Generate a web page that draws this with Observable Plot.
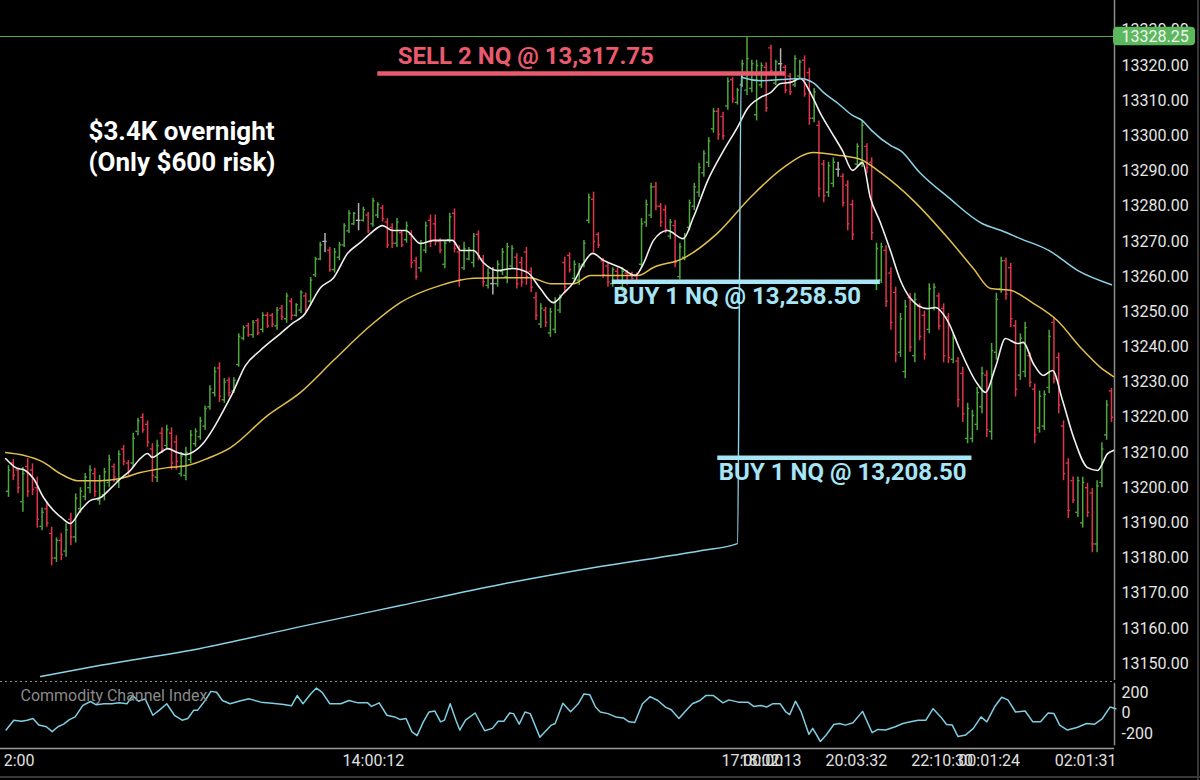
<!DOCTYPE html>
<html><head><meta charset="utf-8">
<script src="https://cdn.jsdelivr.net/npm/d3@7"></script>
<script src="https://cdn.jsdelivr.net/npm/@observablehq/plot@0.6"></script>
<style>
html,body{margin:0;padding:0;background:#000;overflow:hidden;}
#wrap{position:relative;width:1200px;height:780px;background:#000;overflow:hidden;}
#main,#cci{position:absolute;left:0;}
#main{top:0;} #cci{top:680px;}
.edgeB{position:absolute;left:0;top:776px;width:1200px;height:2px;background:#383838;}
.edgeR{position:absolute;left:1197px;top:0;width:2px;height:780px;background:#383838;}
</style></head>
<body><div id="wrap"><div id="main"></div><div id="cci"></div><div class="edgeB"></div><div class="edgeR"></div></div>
<script>
// ---- OHLC bars (one per bar index) ----
const open = [
13199,13207,13205,13196,13206,13205,13200,13189,13194,13187,
13180,13185,13182,13191,13186,13194,13197.5,13200,13204,13196.5,
13198,13201.5,13206,13202,13211,13207,13207,13216,13220,13218,
13211,13203,13215.5,13212,13215.5,13213,13204,13203.5,13208,13212.5,
13214.5,13217.5,13223,13227,13234,13225,13230.5,13227.5,13235,13242.5,
13246,13243.5,13247.5,13245,13249,13249,13246,13251,13248,13253,
13249,13250.5,13254.5,13253,13260.5,13265,13270,13267.5,13262,13265.5,
13269,13273,13275,13276,13276,13277.5,13275,13277.5,13279.5,13275.5,
13274,13269.5,13272.5,13270.5,13272,13264.5,13262.5,13267.5,13276,13275,
13270,13263.5,13270.5,13278,13267,13262.5,13265,13264,13272,13265,
13257.5,13258,13258,13261.5,13260,13263,13265.5,13264,13267,13261.5,
13254,13246.5,13250.5,13244,13245,13250.5,13264,13266,13259.5,13259,
13263.5,13276,13282,13272,13264.5,13263,13258,13261.5,13257,13261,
13260.75,13260.5,13263.5,13275.5,13277.5,13285.5,13280,13279,13271.5,13274.5,
13260,13265.5,13274,13280,13284,13289.5,13292.5,13302,13307,13305.5,
13308.5,13316,13309.5,13314.5,13313,13313.5,13306,13314.5,13319.5,13325,
13315,13320.5,13319.5,13317,13314.5,13317,13321.5,13318,13305,13303,
13292,13284,13286.5,13290.5,13288.5,13286,13280.5,13292,13292.5,13297,
13292.5,13258,13259,13267.5,13261,13255.5,13238.5,13233,13254,13237.5,
13251.5,13249,13245,13251,13254.5,13251,13248.5,13236.5,13236,13232.5,
13214,13214,13218,13223,13232,13216,13238.5,13256.5,13264.5,13262.5,
13246,13232,13233,13237.5,13228,13217,13217.5,13228.5,13247,13237,
13217.5,13207,13202,13193,13190,13200,13198.5,13184,13201.5,13215,
13227.5];
const high = [
13206.25,13208,13205.5,13205.75,13208.25,13206.75,13203,13194.25,13195.5,13188.75,
13185.75,13187,13189.75,13192.75,13198.25,13200,13204,13206.25,13205.5,13203.5,
13205.5,13209.25,13206.75,13210.5,13212,13207.75,13215.5,13219.75,13221,13219,
13212.5,13213.5,13217,13217.75,13217,13214.75,13210,13211.5,13216.25,13216.75,
13220,13223.25,13229,13234.25,13235.5,13231,13231.25,13231.25,13243.75,13246,
13246.75,13247.5,13248,13249.75,13249.75,13249.5,13251.25,13251.75,13255.25,13253.75,
13252.25,13256,13255.25,13259.75,13265.5,13269.75,13272.25,13268.25,13268,13269.75,
13275,13278.75,13278.25,13280.75,13279.75,13278.25,13282.25,13281,13280.25,13276.5,
13275,13276.5,13273,13275.5,13273,13265.5,13270.25,13275.5,13277.5,13277.5,
13270.75,13270.25,13278,13279.25,13268.75,13269.75,13268.25,13272.25,13273,13266,
13262.25,13262.5,13264.5,13268,13269.5,13268.75,13266.5,13265.5,13268.25,13262.5,
13255.5,13252.25,13251.25,13251,13254,13254.75,13265.5,13266.75,13264.5,13263.75,
13270.25,13283.5,13284,13272.5,13265.25,13264,13262.5,13262.5,13262.5,13261.75,
13261.25,13261,13276.5,13281.75,13286.5,13286.75,13280.75,13280.25,13276.25,13276,
13269.5,13272.25,13281.75,13286.5,13292.25,13295.75,13299.5,13307.75,13307.75,13306.75,
13316.5,13316.5,13313.5,13321.5,13328.25,13321.5,13321.5,13320.75,13320.75,13325.75,
13321.5,13324.75,13320,13317.75,13322.75,13321.5,13322.75,13319.25,13313.5,13304.25,
13293,13292.5,13293.75,13292.5,13289.25,13287.25,13281.75,13297.75,13304.25,13297.75,
13293.75,13269.5,13269.5,13268.75,13262.5,13257,13249.5,13253.25,13255.25,13255.25,
13252.25,13250.25,13258,13258,13255.25,13252.25,13249.5,13243.75,13237,13234.25,
13224,13222,13228.5,13234.25,13233.25,13241,13255.25,13265.5,13265.25,13263.75,
13247.5,13243.75,13247,13238.25,13229.5,13227.5,13227.5,13244.75,13248.25,13238.25,
13219,13208.25,13203,13203,13203,13201.25,13199.75,13202,13212.75,13224.75,
13228.25];
const low = [
13197.25,13202,13198.25,13193,13197.25,13197.75,13188.5,13187.75,13188.75,13177.75,
13178.75,13179.25,13180.25,13183.5,13184.25,13192.75,13196.25,13198.25,13197.25,13195,
13196.25,13200,13201.5,13199.75,13206.25,13203.5,13205.75,13214.75,13215.5,13211.5,
13201.5,13201.5,13209.75,13211,13205,13205,13203,13202,13206.75,13211.5,
13213.5,13216.25,13222,13225.75,13224.25,13224,13225.75,13226.75,13234.25,13241.75,
13242.75,13242.5,13243.25,13244,13245.25,13245.5,13244.75,13247.5,13246.75,13247.5,
13248.5,13249.5,13249.75,13251.75,13259.75,13264.5,13266.75,13261.25,13261,13264.5,
13268.25,13272.25,13274.5,13273,13275.5,13272.25,13274,13276.5,13275.5,13268,
13268,13268.25,13268.25,13269.5,13262.25,13259,13261.25,13266.5,13268.25,13268.75,
13266.5,13262.25,13269.5,13266.75,13257,13261.75,13264.5,13262.5,13264.5,13257,
13256.5,13254.75,13257,13260.25,13258,13262.25,13256.5,13257,13257.5,13255.5,
13247.5,13245.25,13245.5,13242.75,13243.75,13249.5,13255.25,13261,13258.25,13257.5,
13262.5,13275,13266.75,13268,13259.5,13257,13257,13258,13255.5,13257.5,
13259,13258,13262.5,13274,13276.5,13278.75,13274,13272.25,13270.5,13262.5,
13259,13264.5,13273,13278.75,13282.5,13288.25,13291,13300.75,13298.75,13298.75,
13307.25,13309.25,13308.75,13313.75,13311.5,13312.25,13304.25,13313.5,13306.75,13317.75,
13314.25,13317.75,13312,13311.5,13313.75,13316.25,13311,13303,13303.75,13282.5,
13281,13282.5,13285.25,13288.25,13279.75,13273,13270.25,13291,13291,13289.25,
13270.25,13256,13258,13251.25,13244.75,13235.5,13237,13231,13238.5,13235.5,
13241.75,13236.25,13243.75,13250.25,13244.75,13235.5,13235.25,13235.25,13222.75,13218.5,
13212.5,13212.75,13216.25,13221,13214.25,13213.5,13236.25,13255.25,13253.25,13245.5,
13225.75,13230.5,13231.25,13228.5,13212.5,13215.5,13216.25,13226.75,13229.5,13221,
13202,13191.25,13195.5,13191.5,13188.5,13191.5,13181.5,13181.5,13200,13213.5,
13218.5];
const close = [
13205,13203.5,13200,13204,13199,13199.5,13191,13193,13190,13180,
13185,13181,13188,13186,13197,13199,13203,13205,13199,13202,
13204.5,13208,13203,13209.5,13207.5,13204.5,13214,13219,13216.5,13213,
13203.5,13212,13211,13216.5,13207,13207.5,13209,13210,13215,13216,
13219,13222.5,13228,13233,13226,13230,13227,13230.5,13243,13245.5,
13243.5,13247,13244,13249,13246,13246.5,13250.5,13248.5,13254.5,13249,
13252,13255.5,13250.5,13259,13265,13269,13270,13262,13267,13269,
13274.5,13278,13278,13276,13279,13273,13281.5,13280.5,13276.5,13269,
13269.5,13275.5,13269,13274.5,13264,13260,13269.5,13274.5,13270,13270,
13267.5,13269.5,13277,13268,13259,13268,13267.5,13271.5,13266,13258.5,
13261,13258,13263.5,13267,13268.5,13268,13258,13258.5,13260,13257,
13249,13251,13247,13250,13253,13254,13257,13262,13263.5,13263,
13269.5,13282.5,13270,13269,13260.5,13258.5,13262,13259,13261.5,13258.5,
13259.5,13258.75,13275,13280.5,13285.5,13280,13275.5,13273.5,13275.5,13264,
13268.5,13271.5,13281,13285.5,13291,13295,13298.5,13307,13300.5,13300,
13315.5,13310.5,13313,13320.5,13322,13320.5,13320,13320,13308,13318.5,
13321,13320.5,13313,13312.5,13322,13321,13312,13305,13312.5,13285,
13283,13291.5,13292.5,13290.5,13281,13275,13272,13297,13303,13291,
13272.5,13268,13268.5,13253,13247,13238,13248,13251.5,13240,13253.5,
13243,13238,13256.5,13257,13246,13237.5,13237,13242.5,13225,13221,
13222.5,13220.5,13227,13232.5,13216.5,13239,13253.5,13264.5,13255,13248,
13228,13242.5,13245.5,13230,13215,13226,13226.5,13243,13231,13223.5,
13204,13193.5,13196.5,13202,13201.5,13193,13184,13200.5,13211,13223.5,
13220];

// ---- indicator lines: [bar index, value] ----
const fastMA = [[-0.6,13208.3],[1.5,13205.7],[3.5,13204.9],[5.2,13202.6],[7.3,13197.2],[9.4,13193.5],[11.3,13191.2],[12.9,13189.8],[15.0,13193.5],[17.1,13196.4],[19.2,13197.2],[21.3,13199.8],[23.4,13202.6],[25.4,13204.9],[27.5,13208.3],[29.0,13209.7],[30.0,13208.6],[31.7,13210.0],[33.2,13211.1],[35.2,13210.0],[36.9,13209.4],[39.0,13210.6],[40.7,13212.8],[42.7,13216.8],[44.8,13221.9],[46.7,13226.8],[49.4,13234.7],[52.5,13239.0],[56.7,13243.8],[59.2,13246.7],[61.5,13248.9],[65.1,13256.9],[67.8,13259.7],[70.7,13266.6],[73.4,13269.7],[75.5,13272.3],[78.0,13274.5],[80.1,13273.1],[82.8,13273.1],[85.9,13269.4],[88.6,13270.3],[92.6,13270.3],[94.3,13267.4],[97.0,13267.4],[99.0,13264.0],[102.0,13261.7],[105.1,13262.3],[108.2,13261.2],[110.9,13256.6],[113.6,13252.6],[115.7,13255.2],[117.8,13258.3],[119.9,13263.7],[121.8,13266.6],[124.1,13264.6],[127.6,13262.6],[130.7,13260.3],[132.4,13263.7],[134.5,13270.3],[137.4,13273.1],[140.7,13270.8],[142.8,13276.8],[145.8,13287.3],[149.1,13295.8],[152.0,13302.4],[154.1,13307.8],[156.8,13310.9],[158.9,13312.3],[161.0,13314.9],[163.1,13315.2],[165.1,13316.3],[167.2,13312.3],[169.3,13306.4],[171.4,13301.5],[173.9,13295.8],[176.0,13290.2],[178.1,13292.4],[179.7,13282.5],[181.8,13275.4],[183.9,13267.4],[186.0,13258.9],[188.1,13253.8],[191.6,13250.9],[193.3,13251.2],[195.8,13247.5],[198.5,13239.0],[202.0,13229.6],[203.7,13227.1],[205.8,13234.2],[207.9,13242.4],[210.4,13241.0],[211.6,13241.3],[213.7,13235.3],[215.8,13231.9],[217.7,13233.3],[219.8,13224.8],[222.1,13214.3],[225.0,13205.7],[227.1,13204.9],[229.2,13209.7],[230.4,13210.6]];
const slowMA = [[-0.6,13210.0],[3.1,13209.2],[7.3,13207.2],[10.8,13204.0],[14.4,13202.0],[19.2,13202.0],[23.4,13202.6],[27.5,13204.3],[33.2,13205.7],[37.3,13206.3],[41.5,13208.3],[46.3,13211.4],[54.0,13220.5],[60.9,13227.1],[67.8,13236.2],[75.5,13246.1],[81.7,13252.6],[90.1,13257.5],[97.0,13259.5],[104.1,13259.7],[108.8,13259.7],[113.0,13258.0],[117.8,13258.0],[121.4,13260.3],[131.2,13260.3],[134.5,13262.6],[140.7,13265.2],[147.8,13272.3],[154.7,13282.5],[161.6,13291.0],[167.9,13295.3],[173.5,13294.4],[177.7,13293.3],[181.8,13289.6],[188.7,13281.6],[195.8,13271.1],[201.2,13262.3],[204.8,13256.6],[208.9,13256.1],[213.7,13252.4],[218.7,13247.5],[223.5,13239.9],[227.7,13234.2],[230.4,13231.6]];
const blueLine = [[6.7,13146.3],[19.2,13149.5],[40.0,13154.3],[60.9,13160.5],[81.7,13166.5],[102.6,13172.5],[123.4,13177.6],[144.3,13182.1],[152.0,13184.1],[152.8,13317.7],[153.0,13316.6],[157.0,13315.7],[161.0,13316.0],[165.0,13316.3],[168.0,13314.9],[170.0,13312.3],[173.0,13309.2],[176.0,13305.8],[178.0,13304.4],[180.0,13301.5],[184.0,13297.2],[186.0,13295.8],[190.0,13289.6],[196.0,13282.5],[203.0,13275.1],[207.0,13273.1],[211.0,13270.8],[217.0,13267.4],[223.0,13261.7],[230.0,13257.7]];
const cciLine = [[-0.5,-166],[1.1,-70],[2.7,-80],[3.9,-70],[5.1,-54],[6.3,-118],[7.9,-134],[9.1,-182],[10.3,-134],[11.5,-109],[12.7,-64],[13.9,-38],[15.5,74],[17.1,112],[18.3,80],[19.9,90],[21.5,90],[23.1,99],[24.7,90],[25.9,170],[27.1,115],[28.5,138],[30.1,-22],[31.4,26],[33.0,90],[34.6,-22],[36.2,-70],[37.4,-54],[38.6,26],[39.4,26],[41.0,122],[42.2,211],[43.4,202],[44.6,122],[46.2,90],[48.6,122],[50.2,138],[52.6,106],[55.0,96],[57.4,83],[59.0,70],[60.2,170],[61.4,90],[63.0,186],[64.2,243],[65.4,202],[67.0,90],[69.3,90],[71.0,122],[72.9,99],[74.9,99],[75.7,64],[77.3,99],[78.9,-22],[80.5,-38],[81.7,-64],[82.9,-54],[84.1,-182],[85.2,-221],[86.5,-86],[87.7,10],[88.9,19],[90.1,-86],[90.9,-70],[92.1,90],[93.3,-70],[94.1,-166],[95.3,-70],[97.3,0],[99.3,-173],[100.9,-150],[102.1,-80],[103.3,-80],[104.5,0],[105.3,-6],[106.5,-109],[107.7,10],[108.8,-6],[110.8,-237],[113.2,-118],[114.0,-102],[115.6,96],[117.2,13],[118.8,90],[120.0,186],[121.2,179],[122.4,58],[123.4,10],[125.0,-6],[126.6,-38],[128.2,-48],[129.4,-86],[130.6,-93],[132.2,90],[133.8,160],[135.4,122],[137.0,58],[138.2,32],[139.8,-54],[141.0,10],[142.6,90],[144.2,122],[145.4,170],[147.0,170],[149.0,99],[150.2,128],[152.2,106],[154.2,106],[155.4,64],[156.9,74],[158.1,58],[159.3,90],[160.9,90],[162.1,10],[162.9,-16],[164.1,115],[165.3,10],[166.9,-208],[167.7,-150],[169.3,-278],[170.5,-214],[172.1,-112],[173.3,-102],[174.5,-118],[176.1,-96],[178.1,16],[180.1,-192],[181.3,-160],[182.9,-166],[184.9,-134],[186.5,-102],[188.1,-86],[189.7,-70],[191.3,-70],[192.8,42],[194.4,-38],[195.6,-112],[196.8,-118],[198.0,-230],[199.6,-214],[201.2,-150],[202.8,-38],[204.0,-86],[205.6,58],[207.1,154],[208.4,128],[210.0,10],[212.0,19],[213.6,-86],[215.2,-86],[216.8,0],[218.0,-6],[219.2,-118],[220.8,-166],[222.8,-141],[224.8,-102],[226.5,-109],[228.1,-54],[229.7,58],[230.9,42]];

// ---- trades ----
const tradeLabels = ["SELL 2 NQ @ 13,317.75", "BUY 1 NQ @ 13,258.50", "BUY 1 NQ @ 13,208.50"];
const tradeSides = ["SELL", "BUY", "BUY"];
const tradePrices = [13317.75, 13258.50, 13208.50];
const tradeFrom = [77.0, 125.9, 147.9];
const tradeTo = [162.0, 181.8, 200.9];

const sessionHigh = 13328.25;
const priceTicks = [13150,13160,13170,13180,13190,13200,13210,13220,13230,13240,13250,13260,13270,13280,13290,13300,13310,13320,13330];
const cciTicks = [-200, 0, 200];
const timeLabels = ["2:00", "14:00:12", "17:00:00", "18:02:13", "20:03:32", "22:10:30", "00:01:24", "02:01:31"];
const timeIdx = [-1.0, 76.1, 155.1, 158.9, 176.8, 194.7, 204.5, 224.6];
const noteLines = ["$3.4K overnight", "(Only $600 risk)"];

// ---- build ----
const GREEN = "#4fa83d", RED = "#e2344c", GRAY = "#b4b4b4";
const bars = open.map((o, i) => ({i, open: o, high: high[i], low: low[i], close: close[i]}));
const barColor = d => d.close > d.open ? GREEN : d.close < d.open ? RED : GRAY;
const trades = tradeLabels.map((label, k) => ({label, side: tradeSides[k], price: tradePrices[k], from: tradeFrom[k], to: tradeTo[k]}));
const sideColor = d => d.side === "SELL" ? "#ea5a6e" : "#a6e5f6";
const times = timeLabels.map((label, k) => ({label, i: timeIdx[k]}));

const XD = [-1.67, 230.63];
const FONT = "Roboto, 'Noto Sans', sans-serif";

const main = Plot.plot({
  width: 1200, height: 680,
  marginLeft: 0, marginRight: 86, marginTop: 0, marginBottom: 0,
  style: {background: "#000", color: "#e6e6e6", fontFamily: FONT, fontSize: "16px"},
  x: {domain: XD, axis: null},
  y: {domain: [13145.19, 13338.48]},
  color: {type: "identity"},
  marks: [
    Plot.axisY({anchor: "right", ticks: priceTicks, tickSize: 0, tickPadding: 7, tickFormat: d => d.toFixed(2), fill: "#e6e6e6"}),
    Plot.ruleX([XD[1]], {stroke: "#8c8c8c", strokeWidth: 1.5}),
    Plot.ruleY([sessionHigh], {stroke: "#4caf3c", strokeWidth: 1}),
    Plot.ruleX(bars, {x: "i", y1: "low", y2: "high", stroke: barColor, strokeWidth: 1.5}),
    Plot.ruleY(bars, {y: "open", x1: d => d.i - 0.45, x2: "i", stroke: barColor, strokeWidth: 1.4}),
    Plot.ruleY(bars, {y: "close", x1: "i", x2: d => d.i + 0.45, stroke: barColor, strokeWidth: 1.4}),
    Plot.line(slowMA, {stroke: "#e2bf4c", strokeWidth: 1.5, curve: "monotone-x"}),
    Plot.line(fastMA, {stroke: "#f0f0f0", strokeWidth: 1.6, curve: "monotone-x"}),
    Plot.line(blueLine, {stroke: "#8dd3e8", strokeWidth: 1.5, curve: "monotone-x"}),
    Plot.ruleY(trades, {y: "price", x1: "from", x2: "to", stroke: sideColor, strokeWidth: 4.5}),
    Plot.text(trades.filter(d => d.side === "SELL"), {x: "from", y: "price", text: "label", textAnchor: "start", lineAnchor: "top", dx: 20, dy: -26, fill: sideColor, fontSize: 24, fontWeight: "bold"}),
    Plot.text(trades.filter(d => d.side === "BUY"), {x: "from", y: "price", text: "label", textAnchor: "start", lineAnchor: "top", dx: 1, dy: 5, fill: sideColor, fontSize: 24, fontWeight: "bold"}),
    Plot.rect([sessionHigh], {x1: XD[1] - 0.2, x2: XD[1] + 16.9, y1: d => d - 2.6, y2: d => d + 2.6, fill: "#5cb85c", rx: 4}),
    Plot.text([sessionHigh], {x: XD[1], y: d => d, text: d => d.toFixed(2), textAnchor: "start", dx: 7, fill: "#f4f4f4", fontSize: 16}),
    Plot.text([noteLines.join("\n")], {frameAnchor: "top-left", dx: 88, dy: 118, lineAnchor: "top", lineHeight: 1.17, textAnchor: "start", fill: "#ffffff", fontSize: 26, fontWeight: "bold"})
  ]
});
document.getElementById("main").append(main);

const CD = [-346.3, 317.1];
const cci = Plot.plot({
  width: 1200, height: 100,
  marginLeft: 0, marginRight: 86, marginTop: 0, marginBottom: 32,
  style: {background: "#000", color: "#e6e6e6", fontFamily: FONT, fontSize: "16px"},
  x: {domain: XD, axis: null},
  y: {domain: CD},
  marks: [
    Plot.ruleY([CD[1]], {dy: 1, stroke: "#8a8a8a", strokeDasharray: "2,3", strokeWidth: 1.2}),
    Plot.ruleY([CD[0]], {stroke: "#9a9a9a", strokeWidth: 1.5}),
    Plot.ruleX([XD[1]], {y1: 290, y2: -320, stroke: "#8c8c8c", strokeWidth: 1.5}),
    Plot.axisY({anchor: "right", ticks: cciTicks, tickSize: 0, tickPadding: 7, tickFormat: d => String(d), fill: "#e6e6e6"}),
    Plot.line(cciLine, {stroke: "#7fcde2", strokeWidth: 1.5}),
    Plot.text(["Commodity Channel Index"], {frameAnchor: "top-left", dx: 20, dy: 15, lineAnchor: "middle", textAnchor: "start", fill: "#8a8a8a", fontSize: 16}),
    Plot.text(times.slice(0, 1), {x: "i", text: "label", frameAnchor: "bottom", dy: 12, lineAnchor: "middle", textAnchor: "start", fill: "#e0e0e0", fontSize: 16}),
    Plot.text(times.slice(1), {x: "i", text: "label", frameAnchor: "bottom", dy: 12, lineAnchor: "middle", textAnchor: "middle", fill: "#e0e0e0", fontSize: 16})
  ]
});
document.getElementById("cci").append(cci);
</script>
</body></html>
